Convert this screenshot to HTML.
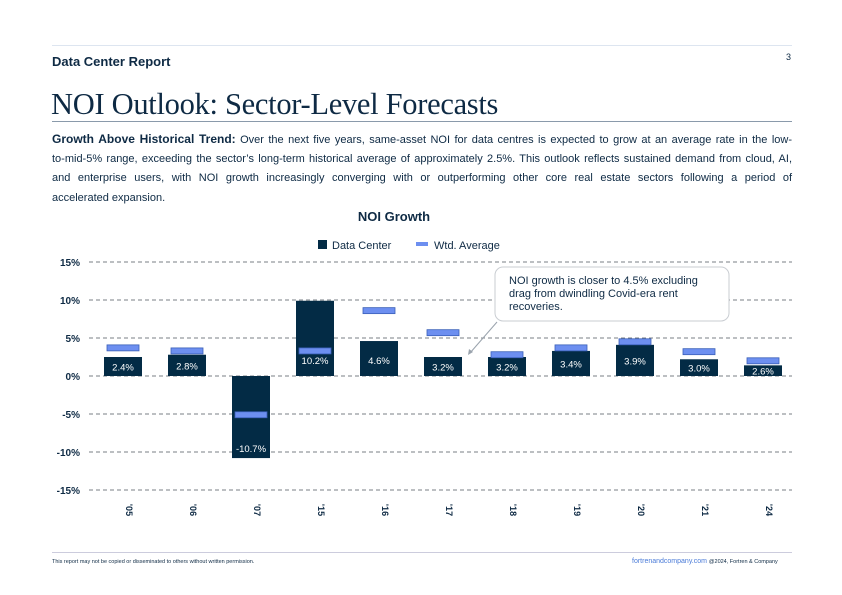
<!DOCTYPE html>
<html><head><meta charset="utf-8">
<style>
body{margin:0;width:842px;height:595px;background:#fff;position:relative;overflow:hidden;font-family:"Liberation Sans",sans-serif;color:#0e2a44}
.abs{position:absolute}
.pl{white-space:nowrap;text-align:justify;text-align-last:justify;height:19.5px}
</style></head>
<body>
<div class="abs" style="left:52px;top:45px;width:740px;height:1px;background:#dde5f0"></div>
<div class="abs" style="left:52px;top:54px;font-size:13px;font-weight:bold;color:#0e2a44">Data Center Report</div>
<div class="abs" style="left:786px;top:52px;font-size:9px;color:#0e2a44">3</div>
<div class="abs" style="left:51px;top:87px;font-family:'Liberation Serif',serif;font-size:30.5px;color:#0e2a44;letter-spacing:-0.3px">NOI Outlook: Sector-Level Forecasts</div>
<div class="abs" style="left:52px;top:121px;width:740px;height:1px;background:#8a9aab"></div>
<div class="abs" style="left:52px;top:130px;width:740px;font-size:11px;line-height:19.5px;color:#0e2a44">
<div class="pl"><b style="font-size:12px">Growth Above Historical Trend:</b> Over the next five years, same-asset NOI for data centres is expected to grow at an average rate in the low-</div>
<div class="pl">to-mid-5% range, exceeding the sector’s long-term historical average of approximately 2.5%. This outlook reflects sustained demand from cloud, AI,</div>
<div class="pl">and enterprise users, with NOI growth increasingly converging with or outperforming other core real estate sectors following a period of</div>
<div style="height:19.5px">accelerated expansion.</div>
</div>

<svg class="abs" style="left:0;top:0" width="842" height="595" id="chart">
<text x="394" y="221" text-anchor="middle" font-size="13" font-weight="bold" fill="#0e2a44">NOI Growth</text>
<g>
<rect x="318" y="240" width="9" height="9" fill="#032b45"/>
<text x="332" y="249" font-size="11" fill="#0e2a44">Data Center</text>
<rect x="416" y="242" width="12" height="4" fill="#6d8ff0"/>
<text x="434" y="249" font-size="11" fill="#0e2a44">Wtd. Average</text>
</g>
<g id="grid"></g><g id="bars"></g>
<g>
<rect x="495" y="267" width="234" height="54" rx="8" fill="#fff" stroke="#c9cdd2"/>
<text font-size="11" fill="#0e2a44"><tspan x="509" y="284">NOI growth is closer to 4.5% excluding</tspan><tspan x="509" y="297">drag from dwindling Covid-era rent</tspan><tspan x="509" y="310">recoveries.</tspan></text>
<line x1="497" y1="322" x2="470" y2="353" stroke="#9aa3ad" stroke-width="1"/>
<path d="M468 355 l1 -6 l4 3 z" fill="#9aa3ad"/>
</g>
</svg>
<div class="abs" style="left:52px;top:552px;width:740px;height:1px;background:#ccd"></div>
<div class="abs" style="left:52px;top:559px;font-size:5.5px;color:#0e2a44">This report may not be copied or disseminated to others without written permission.</div>
<div class="abs" style="left:632px;top:558px;font-size:7px;color:#0e2a44"><span style="color:#4a7bd8">fortrenandcompany.com</span> <span style="font-size:5.5px">@2024, Fortren &amp; Company</span></div>
<script>
const categories=["'05","'06","'07","'15","'16","'17","'18","'19","'20","'21","'24"];
const barValues=[2.5,2.8,-10.8,9.9,4.6,2.5,2.5,3.3,4.1,2.2,1.4];
const avgValues=[3.7,3.3,-5.1,3.3,8.6,5.7,2.8,3.7,4.5,3.2,2.0];
const barLabels=["2.4%","2.8%","-10.7%","10.2%","4.6%","3.2%","3.2%","3.4%","3.9%","3.0%","2.6%"];
const yTicks=[15,10,5,0,-5,-10,-15];
const NS="http://www.w3.org/2000/svg";
const y=v=>376-v*7.6;
const x=i=>123+i*64;
const grid=document.getElementById('grid'),bars=document.getElementById('bars');
function mk(tag,attrs,parent){const e=document.createElementNS(NS,tag);for(const k in attrs)e.setAttribute(k,attrs[k]);parent.appendChild(e);return e;}
yTicks.forEach(t=>{
 const l=mk('line',{x1:89,x2:792,y1:y(t),y2:y(t),stroke:'#7a7f85','stroke-dasharray':'4,3','stroke-width':1},grid);
 
 
 const tx=mk('text',{x:80,y:y(t)+4,'text-anchor':'end','font-size':10,'font-weight':'bold',fill:'#0e2a44'},grid);
 tx.textContent=t+'%';
 
 
});
categories.forEach((c,i)=>{
 const v=barValues[i],cx=x(i);
 const top=Math.min(y(v),y(0)),h=Math.abs(y(v)-y(0));
 const r=mk('rect',{x:cx-19,y:top,width:38,height:h,fill:'#032b45'},bars);
 
 
 const a=mk('rect',{x:cx-16,y:y(avgValues[i])-3,width:32,height:6,fill:'#6d8ff0',stroke:'#3a5fb8','stroke-width':0.8},bars);
 
 
 const ly=v>=0?Math.max((y(v)+y(0))/2,360)+4:y(v)-6;
 const lt=mk('text',{x:cx,y:ly,'text-anchor':'middle','font-size':9.5,fill:'#fff'},bars);
 lt.textContent=barLabels[i];
 
 
 const xt=mk('text',{x:0,y:0,'text-anchor':'middle','font-size':9,'font-weight':'bold',fill:'#0e2a44',transform:`translate(${cx+3},510) rotate(90)`},bars);
 xt.textContent=c;
 
 
});
</script>
</body></html>
